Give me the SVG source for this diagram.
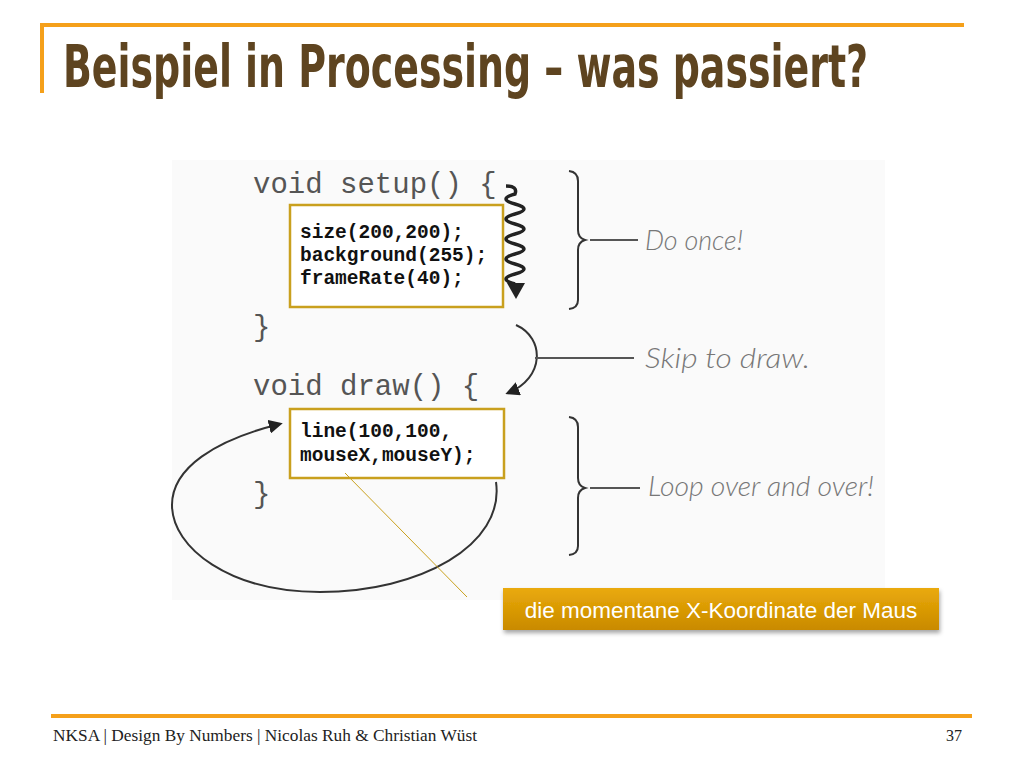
<svg xmlns="http://www.w3.org/2000/svg" width="1024" height="768" viewBox="0 0 1024 768">
<defs>
<style>
.code{font-family:"Liberation Mono","DejaVu Sans Mono",monospace;font-size:29px;fill:#555}
.mono{font-family:"Liberation Mono","DejaVu Sans Mono",monospace;font-size:19.5px;font-weight:bold;fill:#111}
.hand{font-family:"Lato","Open Sans",sans-serif;font-style:italic;font-weight:300;font-size:27px;fill:#777}
.box{fill:#fff;stroke:#C9A01E;stroke-width:2.5}
.ink{fill:none;stroke:#333;stroke-width:2}
.wave{fill:none;stroke:#222;stroke-width:3.5}
.lead{stroke:#555;stroke-width:2}
</style>
<marker id="ah" viewBox="0 0 10 10" refX="8" refY="5" markerWidth="7" markerHeight="7" orient="auto" markerUnits="strokeWidth">
<path d="M0,0 L10,5 L0,10 z" fill="#222"/>
</marker>
<linearGradient id="og" x1="0" y1="0" x2="0" y2="1">
<stop offset="0" stop-color="#EAAA0A"/>
<stop offset="1" stop-color="#C98A00"/>
</linearGradient>
<filter id="sh" x="-5%" y="-20%" width="110%" height="160%">
<feDropShadow dx="1" dy="3" stdDeviation="2" flood-color="#000" flood-opacity="0.35"/>
</filter>
</defs>
<rect width="1024" height="768" fill="#fff"/>
<g id="header">
<line x1="40" y1="25" x2="964" y2="25" stroke="#F5A01A" stroke-width="4"/>
<line x1="42" y1="23" x2="42" y2="93" stroke="#F5A01A" stroke-width="4"/>
<text x="63" y="87" font-family="'Liberation Sans Narrow','DejaVu Sans Condensed','Liberation Sans',sans-serif" font-weight="bold" font-size="58" fill="#5E4420" textLength="805" lengthAdjust="spacingAndGlyphs">Beispiel in Processing – was passiert?</text>
</g>
<rect x="172" y="160" width="713" height="440" fill="#FAFAFA"/>
<g id="code">
<text class="code" x="253" y="193">void setup() {</text>
<text class="code" x="253" y="336">}</text>
<text class="code" x="253" y="395">void draw() {</text>
<text class="code" x="253" y="503">}</text>
</g>
<g id="setupBox">
<rect class="box" x="290" y="205" width="213" height="102"/>
<text class="mono" x="300" y="238">size(200,200);</text>
<text class="mono" x="300" y="261">background(255);</text>
<text class="mono" x="300" y="284">frameRate(40);</text>
</g>
<g id="drawBox">
<rect class="box" x="290" y="409" width="214" height="69"/>
<text class="mono" x="300" y="437">line(100,100,</text>
<text class="mono" x="300" y="461">mouseX,mouseY);</text>
</g>
<g id="connectors">
<path class="wave" d="M506,186 Q518,186 515,194 q-18,5 0,10 t0,10 t0,10 t0,10 t0,10 t0,10 t0,10 t0,10 t0,10"/>
<polygon points="507,283 525,283 516,299" fill="#222"/>
<path class="ink" d="M516,325 C545,338 545,378 508,393" marker-end="url(#ah)"/>
<path class="ink" d="M496,482 C505,545 420,592 320,592 C230,592 172,548 172,505 C172,468 215,440 280,424" marker-end="url(#ah)"/>
<line x1="345" y1="473" x2="467" y2="597" stroke="#C9A01E" stroke-width="1"/>
</g>
<g id="doOnce">
<path class="ink" d="M569,171 Q578,172 578,181 L578,230 Q578,238 585,240 Q578,242 578,250 L578,300 Q578,308 569,309"/>
<line class="lead" x1="590" y1="240" x2="638" y2="240"/>
<text class="hand" x="645" y="250" textLength="98" lengthAdjust="spacingAndGlyphs">Do once!</text>
</g>
<g id="skip">
<line class="lead" x1="535" y1="358" x2="634" y2="358"/>
<text class="hand" x="645" y="368" textLength="165" lengthAdjust="spacingAndGlyphs">Skip to draw.</text>
</g>
<g id="loop">
<path class="ink" d="M569,417 Q578,418 578,427 L578,478 Q578,486 585,488 Q578,490 578,498 L578,546 Q578,554 569,555"/>
<line class="lead" x1="590" y1="488" x2="640" y2="488"/>
<text class="hand" x="648" y="496" textLength="226" lengthAdjust="spacingAndGlyphs">Loop over and over!</text>
</g>
<g id="callout">
<rect x="503" y="588" width="436" height="42" fill="url(#og)" filter="url(#sh)"/>
<text x="721" y="618" text-anchor="middle" font-family="'Liberation Sans',Arial,sans-serif" font-size="22.5" fill="#fff">die momentane X-Koordinate der Maus</text>
</g>
<g id="footer">
<line x1="51" y1="716" x2="972" y2="716" stroke="#F5A01A" stroke-width="4"/>
<text x="53" y="741" font-family="'Liberation Serif',serif" font-size="17" fill="#222" textLength="424" lengthAdjust="spacingAndGlyphs">NKSA | Design By Numbers | Nicolas Ruh &amp; Christian Wüst</text>
<text x="962" y="741" text-anchor="end" font-family="'Liberation Serif',serif" font-size="16" fill="#222">37</text>
</g>
</svg>
